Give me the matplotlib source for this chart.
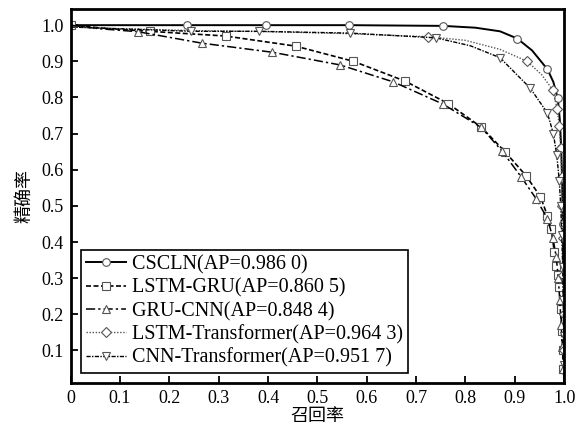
import matplotlib
matplotlib.use("Agg")
import matplotlib.pyplot as plt

plt.rcParams['font.family'] = ['Liberation Serif', 'Noto Sans CJK SC']
plt.rcParams['mathtext.fontset'] = 'stix'

# PR curves
cscln_r = [0.0, 0.1, 0.235, 0.395, 0.565, 0.755, 0.82, 0.87, 0.905, 0.935, 0.966, 0.978, 0.987,
           0.991, 0.994, 0.996, 0.997, 0.998, 0.999, 1.0, 1.0, 1.0]
cscln_p = [1.0, 1.0, 1.0, 1.0, 1.0, 0.998, 0.993, 0.983, 0.963, 0.93, 0.878, 0.843, 0.798,
           0.74, 0.66, 0.56, 0.45, 0.34, 0.22, 0.12, 0.05, 0.01]
cscln_mk = [0, 2, 3, 4, 5, 8, 10, 12, 14, 16, 18, 20]

lg_r = [0.0, 0.08, 0.16, 0.314, 0.456, 0.573, 0.678, 0.765, 0.832, 0.88, 0.923, 0.952, 0.966,
        0.974, 0.98, 0.984, 0.988, 0.99, 0.993, 0.995, 0.997, 0.998, 1.0]
lg_p = [1.0, 0.99, 0.983, 0.97, 0.942, 0.9, 0.845, 0.783, 0.718, 0.65, 0.583, 0.525, 0.473,
        0.435, 0.372, 0.335, 0.308, 0.275, 0.215, 0.155, 0.1, 0.05, 0.01]
lg_mk = [0, 2, 3, 4, 5, 6, 7, 8, 9, 10, 11, 12, 13, 14, 15, 16, 17, 18, 19, 20, 21]

gc_r = [0.0, 0.06, 0.136, 0.267, 0.409, 0.546, 0.654, 0.754, 0.832, 0.874, 0.913, 0.943, 0.966,
        0.977, 0.984, 0.988, 0.991, 0.994, 0.996, 0.998, 1.0]
gc_p = [1.0, 0.99, 0.982, 0.95, 0.925, 0.89, 0.843, 0.782, 0.717, 0.652, 0.58, 0.52, 0.465,
        0.412, 0.358, 0.3, 0.24, 0.17, 0.11, 0.05, 0.01]
gc_mk = [2, 3, 4, 5, 6, 7, 8, 9, 10, 11, 12, 13, 14, 15, 16, 17, 18, 19]

lt_r = [0.0, 0.1, 0.25, 0.4, 0.55, 0.725, 0.8, 0.87, 0.925, 0.955, 0.977, 0.986, 0.99, 0.993,
        0.995, 0.996, 0.997, 0.998, 0.999, 1.0, 1.0]
lt_p = [0.995, 0.99, 0.985, 0.982, 0.977, 0.968, 0.958, 0.933, 0.9, 0.862, 0.82, 0.767, 0.72,
        0.66, 0.58, 0.5, 0.41, 0.31, 0.2, 0.1, 0.01]
lt_mk = [5, 8, 10, 11, 12, 13, 14, 15, 16, 17, 18, 19]

ct_r = [0.0, 0.1, 0.245, 0.381, 0.566, 0.74, 0.81, 0.87, 0.931, 0.966, 0.978, 0.985, 0.99,
        0.993, 0.995, 0.997, 0.998, 0.999, 1.0, 1.0]
ct_p = [0.995, 0.99, 0.983, 0.983, 0.978, 0.965, 0.943, 0.91, 0.826, 0.757, 0.70, 0.64, 0.57,
        0.5, 0.42, 0.33, 0.24, 0.14, 0.06, 0.01]
ct_mk = [2, 3, 4, 5, 7, 8, 9, 10, 11, 12, 13, 14, 15, 16, 17, 18]

labels = ['CSCLN(AP=0.986 0)', 'LSTM-GRU(AP=0.860 5)', 'GRU-CNN(AP=0.848 4)',
          'LSTM-Transformer(AP=0.964 3)', 'CNN-Transformer(AP=0.951 7)']

xticks = [0, 0.1, 0.2, 0.3, 0.4, 0.5, 0.6, 0.7, 0.8, 0.9, 1.0]
xticklabels = ['0', '0.1', '0.2', '0.3', '0.4', '0.5', '0.6', '0.7', '0.8', '0.9', '1.0']
yticks = [0.1, 0.2, 0.3, 0.4, 0.5, 0.6, 0.7, 0.8, 0.9, 1.0]

fig = plt.figure(figsize=(5.76, 4.32), dpi=100)
ax = fig.add_axes([0.1225, 0.1134, 0.857, 0.866])

mk = dict(markersize=5.5, markerfacecolor='white', markeredgecolor='#555555', markeredgewidth=0.8)
ax.plot(cscln_r, cscln_p, color='black', lw=1.4, ls='-', marker='o', markevery=cscln_mk,
        label=labels[0], **mk)
ax.plot(lg_r, lg_p, color='black', lw=1.2, ls=(0, (3, 1.5)), marker='s', markevery=lg_mk,
        label=labels[1], **mk)
ax.plot(gc_r, gc_p, color='black', lw=1.1, ls=(0, (6, 2, 1.5, 2)), marker='^', markevery=gc_mk,
        label=labels[2], **mk)
ax.plot(lt_r, lt_p, color='#555555', lw=1.0, ls=(0, (1, 1.2)), marker='D', markevery=lt_mk,
        label=labels[3], markersize=5, markerfacecolor='white', markeredgecolor='#555555',
        markeredgewidth=0.8)
ax.plot(ct_r, ct_p, color='black', lw=1.0, ls=(0, (3, 1, 1, 1)), marker='v', markevery=ct_mk,
        label=labels[4], **mk)

ax.set_xlim(0, 1.0)
ax.set_ylim(0.01, 1.045)
ax.set_xticks(xticks)
ax.set_xticklabels(xticklabels)
ax.set_yticks(yticks)
ax.tick_params(direction='in', length=5, width=1.3, labelsize=13, pad=5)
for s in ax.spines.values():
    s.set_linewidth(2)

ax.set_xlabel('召回率', fontsize=13, labelpad=0, family=['Noto Sans CJK SC'])
ax.set_ylabel('精确率', fontsize=13, labelpad=6, family=['Noto Sans CJK SC'])

leg = ax.legend(loc='lower left', fontsize=14.5, frameon=True, fancybox=False,
                edgecolor='black', framealpha=1, handlelength=2.0, handletextpad=0.3,
                labelspacing=0.2, borderpad=0.25, borderaxespad=0.5)
leg.get_frame().set_linewidth(1.2)

plt.savefig('out.png', dpi=100)
plt.close()
